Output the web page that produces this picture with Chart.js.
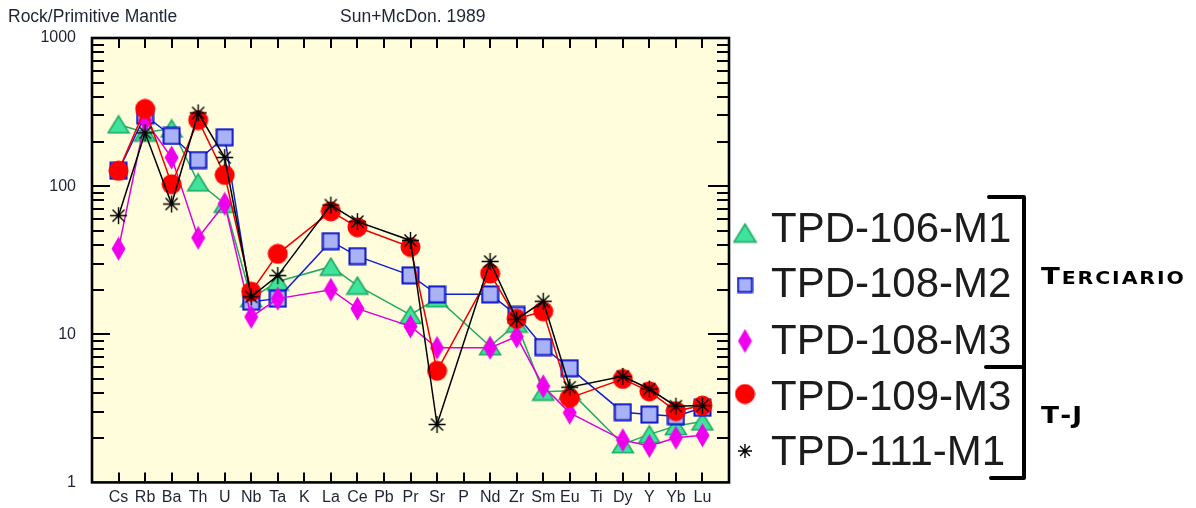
<!DOCTYPE html>
<html>
<head>
<meta charset="utf-8">
<script src="https://cdn.jsdelivr.net/npm/chart.js@4.4.1/dist/chart.umd.min.js"></script>
<style>
  html, body { margin: 0; padding: 0; background: #ffffff; }
  #wrap { width: 1196px; height: 508px; position: relative; }
</style>
</head>
<body>
<div id="wrap"><canvas id="c" width="1196" height="508"></canvas></div>
<script>
// ---- data ----
const categories = ['Cs','Rb','Ba','Th','U','Nb','Ta','K','La','Ce','Pb','Pr','Sr','P','Nd','Zr','Sm','Eu','Ti','Dy','Y','Yb','Lu'];
const yTickLabels = [1, 10, 100, 1000];
const seriesNames = ['TPD-106-M1', 'TPD-108-M2', 'TPD-108-M3', 'TPD-109-M3', 'TPD-111-M1'];
const tpd106M1 = [261, 230, 245, 106, 76, 17.5, 22.7, null, 28.6, 21.3, null, 13.5, 17.5, null, 8.3, 11.8, 4.1, 4.15, null, 1.81, 2.11, 2.4, 2.58];
const tpd108M2 = [127, 300, 218, 150, 214, 16.6, 17.4, null, 42.5, 33.7, null, 25, 18.6, null, 18.6, 13.5, 8.2, 5.9, null, 2.98, 2.87, 2.8, 3.19];
const tpd108M3 = [37.8, 278, 156, 44.8, 76, 13.1, 17.4, null, 20, 14.9, null, 11.3, 8.1, null, 8.1, 9.65, 4.46, 2.95, null, 1.93, 1.76, 2.0, 2.08];
const tpd109M3 = [127, 332, 103, 279, 119, 19.4, 34.9, null, 67.6, 52.8, null, 38.8, 5.67, null, 25.7, 12.7, 14.3, 3.72, null, 4.99, 4.12, 3.03, 3.3];
const tpd111M1 = [63.2, 229, 75.7, 312, 156, 17.9, 24.9, null, 74.5, 57.6, null, 43, 2.46, null, 31, 12.6, 16.7, 4.39, null, 5.2, 4.27, 3.27, 3.3];
const groupLabels = ['Terciario', 'T-J'];

// ---- marker images ----
function mk(w, h, draw) {
  const c = document.createElement('canvas');
  c.width = w; c.height = h;
  const g = c.getContext('2d');
  draw(g, w, h);
  return c;
}
function triangle(size) {
  return mk(size + 4, size, (g, w, h) => {
    g.beginPath();
    g.moveTo(w / 2, 1.5);
    g.lineTo(w - 1.5, h - 1.5);
    g.lineTo(1.5, h - 1.5);
    g.closePath();
    g.fillStyle = '#3fe39b'; g.fill();
    g.lineWidth = 1.5; g.strokeStyle = '#1fa863'; g.stroke();
  });
}
function square(size) {
  return mk(size, size, (g, w, h) => {
    g.fillStyle = '#aab2f6';
    g.fillRect(1.5, 1.5, w - 3, h - 3);
    g.lineWidth = 2; g.strokeStyle = '#0a14c8';
    g.strokeRect(1.5, 1.5, w - 3, h - 3);
  });
}
function diamond(w0, h0) {
  return mk(w0, h0, (g, w, h) => {
    g.beginPath();
    g.moveTo(w / 2, 0.5); g.lineTo(w - 0.5, h / 2); g.lineTo(w / 2, h - 0.5); g.lineTo(0.5, h / 2);
    g.closePath();
    g.fillStyle = '#ee00ee'; g.fill();
  });
}
function circle(d) {
  return mk(d, d, (g, w, h) => {
    g.beginPath(); g.arc(w / 2, h / 2, w / 2 - 0.5, 0, Math.PI * 2);
    g.fillStyle = '#ff0000'; g.fill();
  });
}
function star(d) {
  return mk(d, d, (g, w, h) => {
    g.strokeStyle = '#000'; g.lineWidth = 1.4;
    const r = w / 2 - 1, cx = w / 2, cy = h / 2;
    g.beginPath();
    for (let k = 0; k < 4; k++) {
      const a = k * Math.PI / 4;
      g.moveTo(cx + r * Math.cos(a), cy + r * Math.sin(a));
      g.lineTo(cx - r * Math.cos(a), cy - r * Math.sin(a));
    }
    g.stroke();
  });
}
const markers = [triangle(20), square(19), diamond(15, 25), circle(21), star(19)];
const legendMarkers = [triangle(21), square(17), diamond(15, 25), circle(21), star(16)];
const lineColors = ['#22aa66', '#1020d0', '#dd00dd', '#ee0000', '#000000'];
const orders = [5, 4, 3, 2, 1];
const allSeries = [tpd106M1, tpd108M2, tpd108M3, tpd109M3, tpd111M1];

const labels = ['', ...categories, ''];
const pad = a => [null, ...a, null];

const FONT = "'Liberation Sans', Arial, sans-serif";
const TXT = '#1e2433';

const decorPlugin = {
  id: 'decor',
  beforeDatasetsDraw(chart) {
    const { ctx, chartArea: a } = chart;
    ctx.save();
    ctx.fillStyle = '#fffddc';
    ctx.fillRect(a.left, a.top, a.right - a.left, a.bottom - a.top);
    ctx.restore();
  },
  afterDraw(chart) {
    const { ctx, chartArea: a } = chart;
    const xs = chart.scales.x, ys = chart.scales.y;
    ctx.save();
    // tick marks
    ctx.strokeStyle = '#000'; ctx.lineWidth = 2;
    ctx.beginPath();
    for (let i = 1; i <= categories.length; i++) {
      const px = Math.round(xs.getPixelForValue(i));
      ctx.moveTo(px, a.bottom); ctx.lineTo(px, a.bottom - 10);
      ctx.moveTo(px, a.top); ctx.lineTo(px, a.top + 10);
    }
    [1, 10, 100].forEach(d => {
      for (let m = 2; m <= 9; m++) {
        const py = Math.round(ys.getPixelForValue(m * d));
        ctx.moveTo(a.left, py); ctx.lineTo(a.left + 12, py);
        ctx.moveTo(a.right, py); ctx.lineTo(a.right - 12, py);
      }
    });
    [10, 100].forEach(v => {
      const py = Math.round(ys.getPixelForValue(v));
      ctx.moveTo(a.left, py); ctx.lineTo(a.left + 18, py);
      ctx.moveTo(a.right, py); ctx.lineTo(a.right - 21, py);
    });
    ctx.stroke();
    // border
    ctx.lineWidth = 2.6;
    ctx.strokeRect(a.left, a.top, a.right - a.left, a.bottom - a.top);

    // header texts
    ctx.fillStyle = TXT;
    ctx.font = '17.5px ' + FONT;
    ctx.textBaseline = 'middle'; ctx.textAlign = 'left';
    ctx.fillText('Rock/Primitive Mantle', 8, 17);
    ctx.fillText('Sun+McDon. 1989', 340, 17);

    // legend
    const rowsBase = [242, 297, 354, 410, 465];
    const mCenters = [233, 285, 341, 394, 451];
    ctx.font = '42px ' + FONT;
    ctx.textBaseline = 'alphabetic';
    ctx.fillStyle = '#1c1c1c';
    seriesNames.forEach((n, i) => {
      const im = legendMarkers[i];
      ctx.drawImage(im, 745 - im.width / 2, mCenters[i] - im.height / 2);
      ctx.fillText(n, 771, rowsBase[i]);
    });

    // bracket
    ctx.strokeStyle = '#000'; ctx.lineWidth = 4; ctx.lineJoin = 'round'; ctx.lineCap = 'round';
    ctx.beginPath();
    ctx.moveTo(989, 197); ctx.lineTo(1024, 197); ctx.lineTo(1024, 478); ctx.lineTo(991, 478);
    ctx.moveTo(986, 367); ctx.lineTo(1024, 367);
    ctx.stroke();

    // group labels (small caps, bold)
    function smallCaps(text, x, y, big, small, sx, spacing) {
      ctx.save();
      ctx.translate(x, y);
      ctx.scale(sx, 1);
      let cx = 0;
      for (let k = 0; k < text.length; k++) {
        const ch = text[k];
        const isUpper = ch === ch.toUpperCase();
        ctx.font = 'bold ' + (isUpper ? big : small) + "px 'DejaVu Sans', sans-serif";
        const up = ch.toUpperCase();
        ctx.fillText(up, cx, 0);
        cx += ctx.measureText(up).width + spacing;
      }
      ctx.restore();
    }
    ctx.fillStyle = '#000';
    ctx.textBaseline = 'alphabetic';
    smallCaps(groupLabels[0], 1041, 284, 23, 17, 1.2, 1.6);
    smallCaps(groupLabels[1], 1041, 423, 23, 17, 1.15, 1.0);
    ctx.restore();
  }
};

new Chart(document.getElementById('c'), {
  type: 'line',
  data: {
    labels: labels,
    datasets: allSeries.map((s, i) => ({
      label: seriesNames[i],
      data: pad(s),
      borderColor: lineColors[i],
      borderWidth: 1.5,
      pointStyle: markers[i],
      pointRadius: 10,
      pointHoverRadius: 10,
      spanGaps: true,
      tension: 0,
      fill: false,
      order: orders[i]
    }))
  },
  options: {
    responsive: false,
    animation: false,
    devicePixelRatio: 1,
    layout: { padding: { top: 38, right: 467, bottom: 0, left: 0 } },
    plugins: { legend: { display: false }, tooltip: { enabled: false }, title: { display: false } },
    events: [],
    scales: {
      x: {
        type: 'category',
        offset: false,
        grid: { display: false, drawTicks: false },
        border: { display: false },
        ticks: {
          autoSkip: false, maxRotation: 0, minRotation: 0, padding: 6,
          color: TXT, font: { family: FONT, size: 16 }
        },
        afterFit: s => { s.height = 23; }
      },
      y: {
        type: 'logarithmic',
        min: 1, max: 1000,
        grid: { display: false, drawTicks: false },
        border: { display: false },
        ticks: {
          autoSkip: false, padding: 16,
          color: TXT, font: { family: FONT, size: 16 },
          callback: v => yTickLabels.includes(Number(v)) ? String(v) : ''
        },
        afterFit: s => { s.width = 92; }
      }
    }
  },
  plugins: [decorPlugin]
});
</script>
</body>
</html>
